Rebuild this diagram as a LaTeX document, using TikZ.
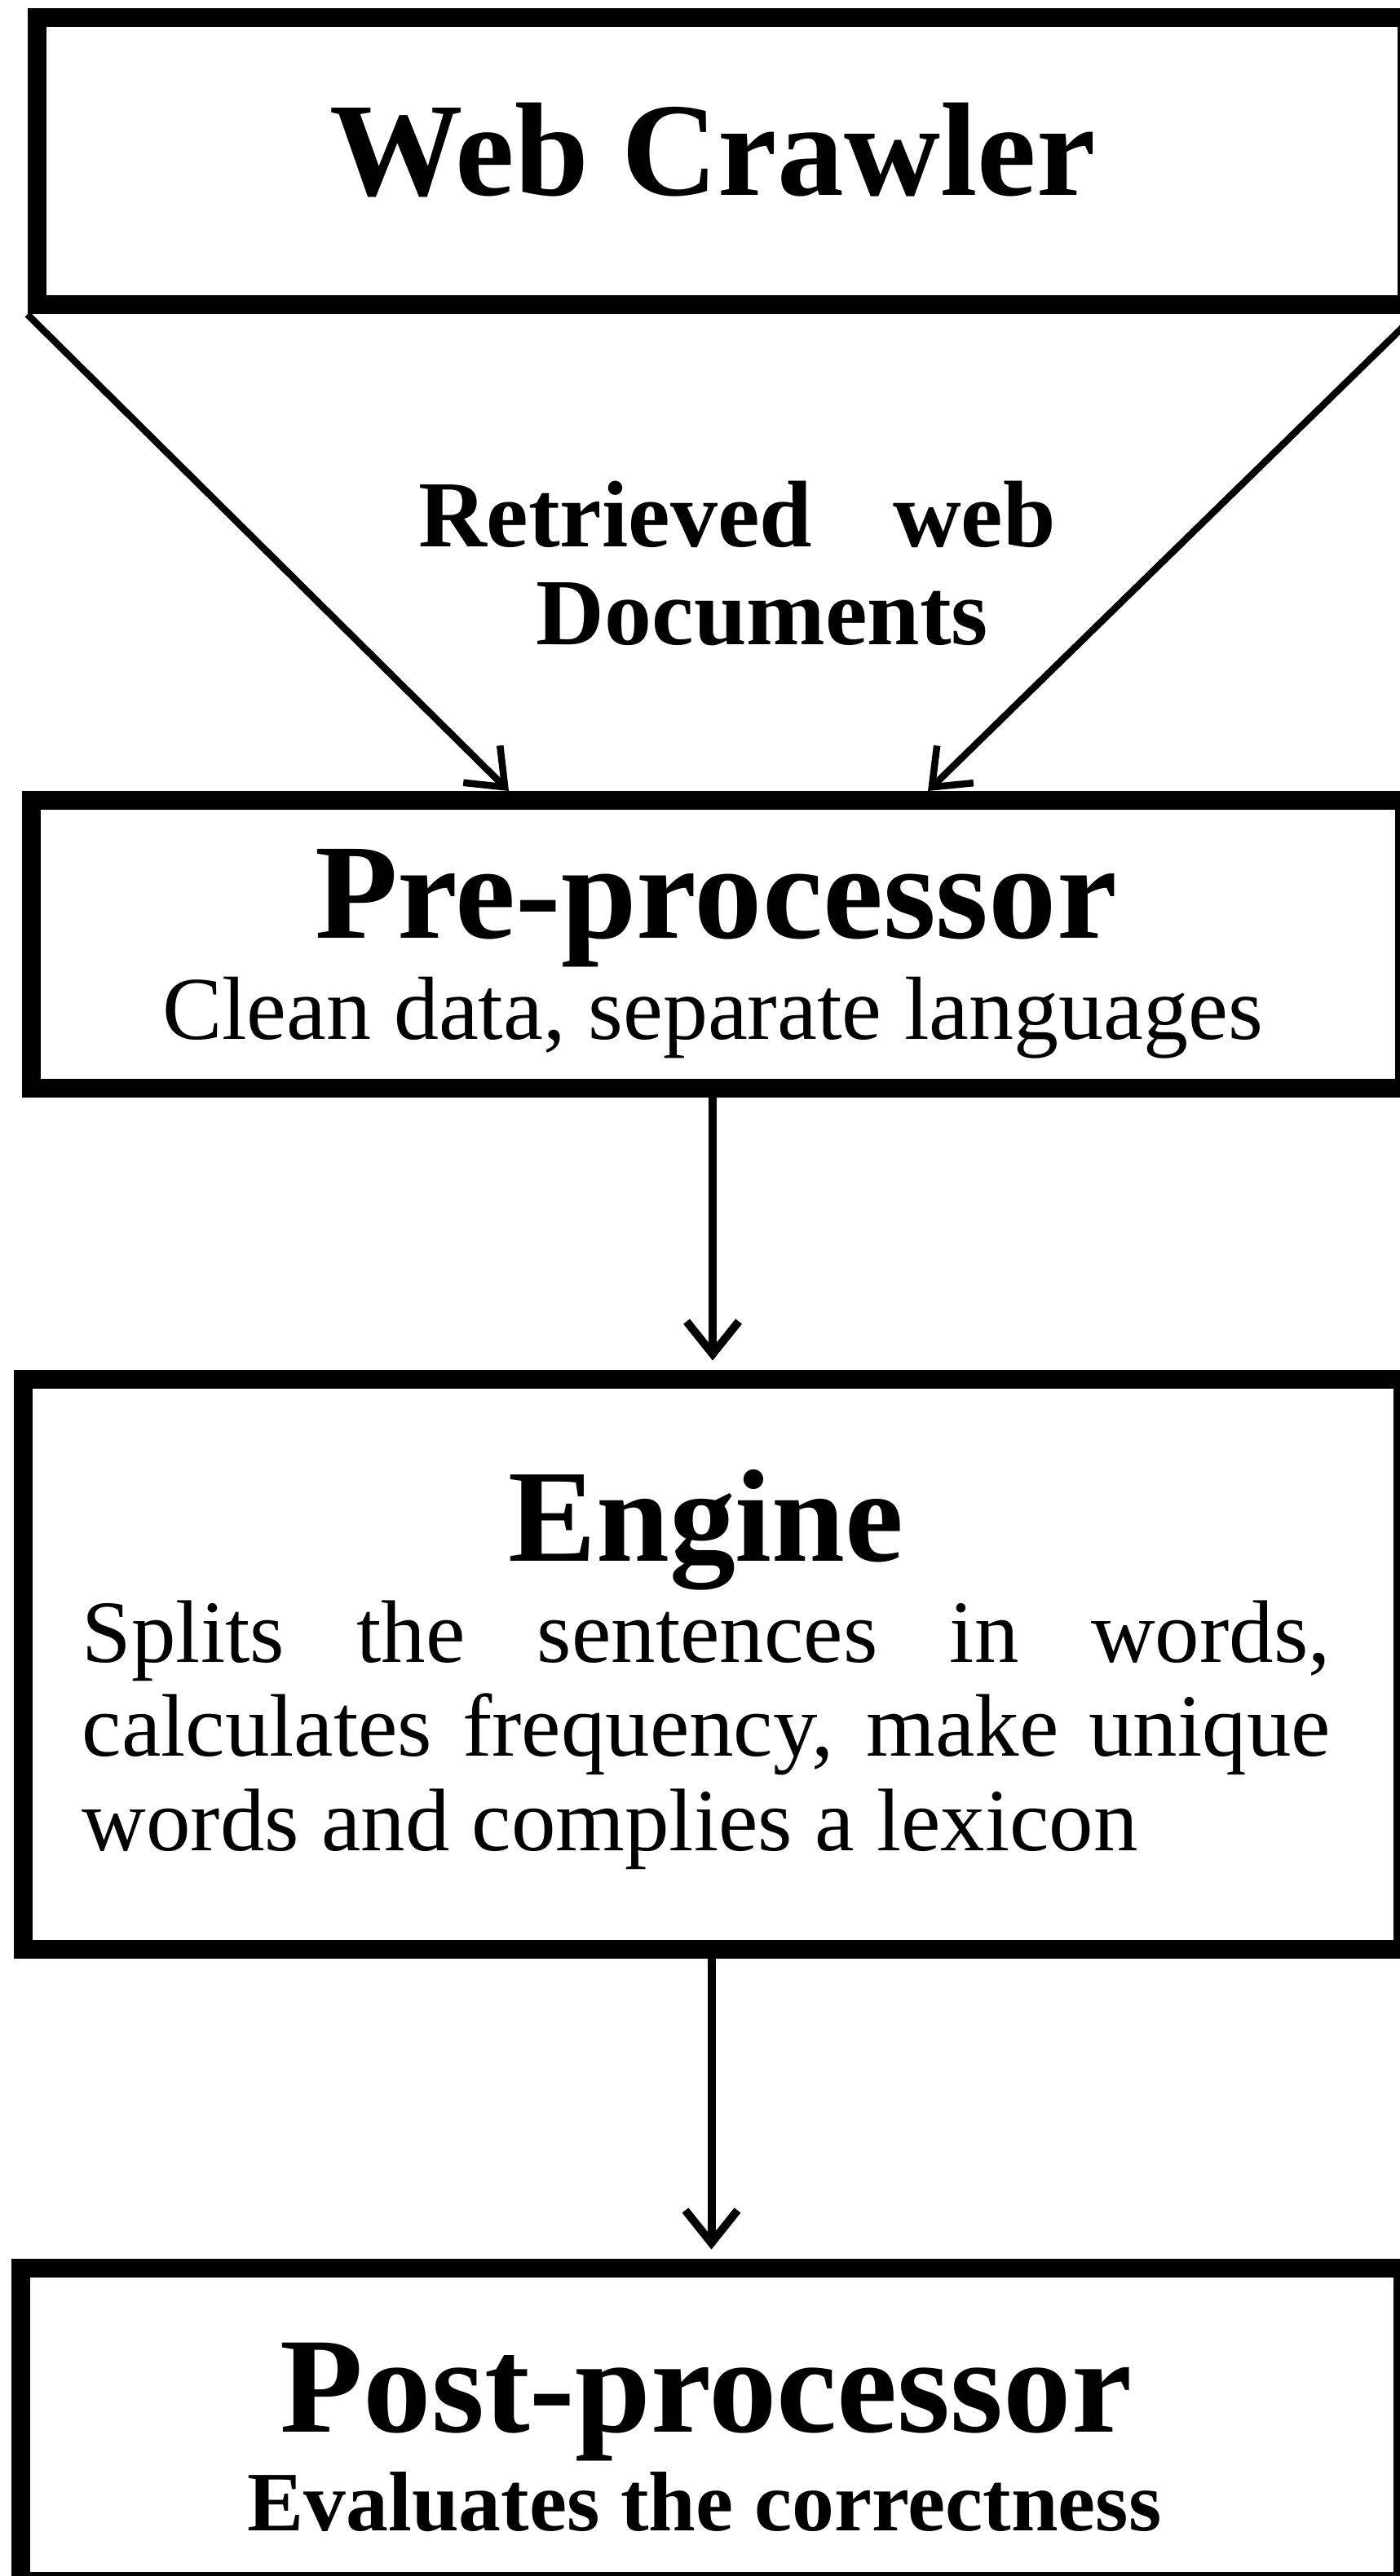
\documentclass[tikz,border=0pt]{standalone}
\usepackage{fontspec}
\setmainfont{Liberation Serif}
\usetikzlibrary{arrows.meta}
\usetikzlibrary{positioning}

\begin{document}
\begin{tikzpicture}[
box/.style = {draw=black, line width=2.3mm, rectangle, inner sep=0pt},
heading/.style = {anchor=base, inner sep=0pt, font=\bfseries\fontsize{#1pt}{#1pt}\selectfont},
note/.style = {anchor=base, inner sep=0pt, font=\fontsize{#1pt}{32.9pt}\selectfont},
flow/.style = {line width=1mm, -{Straight Barb[length=4mm, width=6.4mm]}},
slant/.style = {flow, line width=0.85mm}]
\useasboundingbox (0,0) rectangle (17.16,-31.59);

% boxes
\node[box, minimum width=16.80cm, minimum height=3.52cm] (crawler) at (8.85,-1.98) {};
\node[box, minimum width=16.84cm, minimum height=3.53cm] (preproc) at (8.80,-11.575) {};
\node[box, minimum width=16.92cm, minimum height=6.99cm] (engine) at (8.74,-20.405) {};
\node[box, minimum width=16.95cm, minimum height=3.84cm] (postproc) at (8.725,-29.73) {};

% texts
\node[heading=46.5] (crawlerT) at (8.74,-2.40) {Web Crawler};
\node[heading=33] (docsA) at (9.04,-6.71) {Retrieved\hspace{7mm} web};
\node[heading=33] (docsB) at (9.35,-7.91) {Documents};
\node[heading=47.4] (preprocT) at (8.78,-11.50) {Pre-processor};
\node[note=31.3] (preprocD) at (8.74,-12.74) {Clean data, separate languages};
\node[heading=46] (engineT) at (8.66,-19.14) {Engine};
\node[note=31, anchor=base west, text width=15.31cm, align=justify] (engineD) at (1.00,-20.38)
  {Splits the sentences in words,\linebreak calculates frequency, make unique\linebreak words and complies a lexicon};
\node[heading=47.5] (postprocT) at (8.66,-29.82) {Post-processor};
\node[heading=29.5] (postprocD) at (8.64,-31.03) {Evaluates the correctness};

% arrows
\coordinate (inA) at (6.24,-9.70);
\coordinate (inB) at (11.38,-9.70);
\draw[slant] (crawler.south west) -- (inA);
\draw[slant] (crawler.south east) -- (inB);
\draw[flow] (engine.north |- preproc.south) -- ([yshift=1.1mm]engine.north);
\draw[flow] (postproc.north |- engine.south) -- ([yshift=1.1mm]postproc.north);

\end{tikzpicture}
\end{document}
